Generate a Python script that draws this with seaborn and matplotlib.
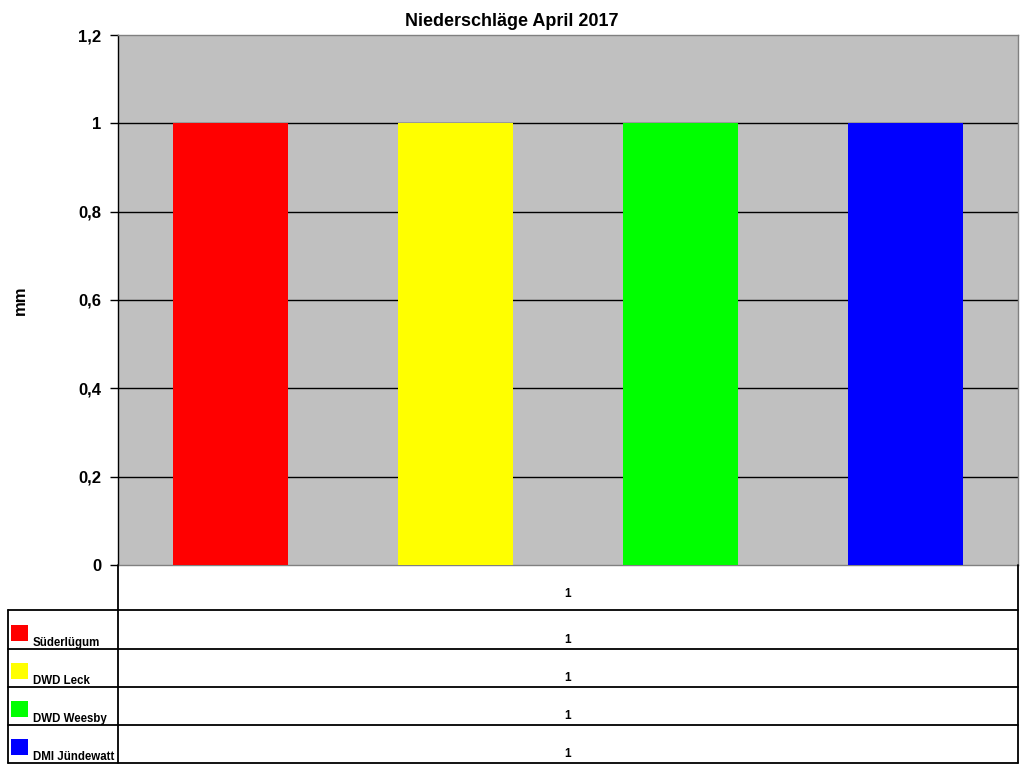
import matplotlib
matplotlib.use("Agg")
import matplotlib.pyplot as plt
import seaborn as sns
import pandas as pd
from matplotlib.patches import Rectangle

# daten
kategorie = ["1"]
stationen = ["Süderlügum", "DWD Leck", "DWD Weesby", "DMI Jündewatt"]
niederschlag = [1, 1, 1, 1]
farben = ["#FF0000", "#FFFF00", "#00FF00", "#0000FF"]
y_ticks = [0, 0.2, 0.4, 0.6, 0.8, 1.0, 1.2]
y_labels = ["0", "0,2", "0,4", "0,6", "0,8", "1", "1,2"]

df = pd.DataFrame({"tag": kategorie * len(stationen), "station": stationen, "mm": niederschlag})

sns.set_style("white")
plt.rcParams["font.family"] = ["Liberation Sans", "DejaVu Sans"]
plt.rcParams["font.weight"] = "bold"
plt.rcParams["text.color"] = "black"
plt.rcParams["axes.labelcolor"] = "black"
plt.rcParams["ytick.color"] = "black"

W, H = 1024, 768
fig = plt.figure(figsize=(W / 100, H / 100), dpi=100)
ax = fig.add_axes([118 / W, (H - 565) / H, 900 / W, 530 / H])
ax.set_facecolor("#C0C0C0")

sns.barplot(data=df, x="tag", y="mm", hue="station", palette=farben, width=1.0, gap=0.489,
            saturation=1, legend=False, ax=ax, zorder=3, linewidth=0, edgecolor="none")
ax.set_xlim(-0.5, 0.5)
ax.set_ylim(0, 1.2)
ax.set_yticks(y_ticks)
ax.set_yticklabels(y_labels, fontsize=12, fontweight="bold")
ax.set_xticks([])
ax.set_xlabel("")
ax.set_ylabel("mm", fontsize=12, fontweight="bold")
ax.yaxis.set_label_coords((28 - 118) / 900, 0.5)
for t in y_ticks[1:-1]:
    ax.axhline(t, color="black", lw=1, zorder=1)
ax.tick_params(axis="y", direction="out", length=6, width=1, color="black", left=True, pad=6)
for s in ["top", "right", "bottom"]:
    ax.spines[s].set_color("#808080")
    ax.spines[s].set_linewidth(1)
ax.spines["left"].set_color("black")
ax.spines["left"].set_linewidth(1)
fig.text(0.5, 1 - 21 / H, "Niederschläge April 2017", fontsize=13, fontweight="bold",
         ha="center", va="center")

# datentabelle
tab = fig.add_axes([0, 0, 1, 1], zorder=5)
tab.set_xlim(0, W)
tab.set_ylim(H, 0)
tab.axis("off")
tab.patch.set_alpha(0)
zeilen = [610, 649, 687, 725, 763]
for y in zeilen:
    tab.plot([8, 1018], [y, y], color="black", lw=1.3)
tab.plot([8, 8], [610, 763], color="black", lw=1.3)
tab.plot([118, 118], [565, 763], color="black", lw=1.3)
tab.plot([1018, 1018], [565, 763], color="black", lw=1.3)
tab.text(568, 594, kategorie[0], ha="center", va="center", fontsize=8.5, fontweight="bold")
for i, (name, wert, farbe) in enumerate(zip(stationen, niederschlag, farben)):
    y0, y1 = zeilen[i], zeilen[i + 1]
    tab.add_patch(Rectangle((11, y1 - 24), 17, 16, facecolor=farbe, edgecolor="none"))
    tab.text(33, y1 - 3, name, ha="left", va="baseline", fontsize=8.3, fontweight="bold")
    tab.text(568, y1 - 9, str(wert).replace(".", ","), ha="center", va="center", fontsize=8.5, fontweight="bold")

fig.savefig("out.png", dpi=100)
